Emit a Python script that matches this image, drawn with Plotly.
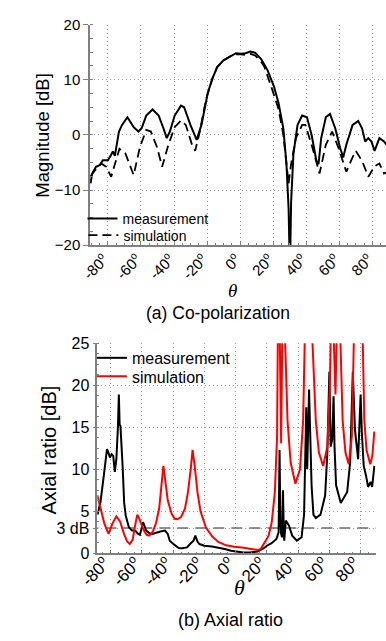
import plotly.graph_objects as go

# ---------------- (a) Co-polarization ----------------
CP_MEAS_THETA = [-90.5, -89.5, -87.2, -85, -83, -80, -78, -77, -75.8, -73.3, -71.4, -68.2, -64.4, -61.5,
                 -59.6, -56.8, -53, -49.3, -46.4, -44.4, -42.5, -39.6, -35.8, -33.9, -30.1, -26.3, -23.4,
                 -19.6, -16.8, -13.9, -10.1, -6.3, -2.5, 0.4, 3.2, 6.1, 9, 12.8, 16.6, 20.4, 23.2, 26.1,
                 28, 29.3, 30.1, 30.8, 32.2, 34.7, 37.5, 40.4, 43.2, 46.1, 47.4, 49, 51.8, 54.3, 57.5,
                 60.4, 62.3, 64.2, 68, 71.4, 73.7, 75.6, 77.5, 79.4, 81.3, 84.2, 87, 89]
CP_MEAS_DB = [-8.8, -7.0, -5.8, -5.5, -4.6, -4.6, -3.6, -3.0, -3.8, 0.6, 1.8, 3.2, 1.4, 0.6,
              1.2, 3.5, 4.6, 3.5, 1.2, -0.6, 0.6, 3.5, 5.3, 5.0, 1.8, -0.9, 1.8,
              7.6, 10.2, 12.3, 13.5, 14.2, 14.8, 14.7, 14.8, 15.1, 14.9, 13.7, 11.7, 8.8, 5.8, 1.2,
              -5.3, -13.4, -25.0, -12.3, -3.5, 1.8, 3.5, 3.2, 0.0, -4.7, -5.3, -0.6, 3.2, 3.8, 1.2,
              -2.3, -4.1, -1.8, 1.8, 2.5, 1.2, -1.2, -0.6, -1.2, -2.9, -0.6, -1.2, -2.0]

CP_SIM_THETA = [-90.5, -88, -84, -81, -78, -76, -73, -69.5, -64.4, -60.7, -56.8, -54, -50.2, -47.2,
                -43.4, -39.6, -35.8, -32.9, -29.1, -27.2, -24.4, -20.6, -16.8, -13.9, -10.1, -6.3,
                -2.5, 0.4, 3.2, 6.1, 9, 12.8, 14.7, 19.4, 23.2, 26.1, 28, 29.3, 30.8, 33.7, 37.5, 39.4,
                43.2, 48, 51.8, 55.6, 59.4, 64.2, 67, 69.9, 73.7, 77.5, 81.3, 84.2, 87, 89]
CP_SIM_DB = [-7.5, -6.5, -5.2, -5.8, -7.6, -5.5, -2.5, -3.3, -7.3, -2.3, 0.9, 0.6, -2.3, -5.8,
             -1.8, 1.4, 2.6, 1.8, -1.8, -2.9, 0.6, 6.5, 10.2, 12.3, 13.5, 14.2,
             14.6, 14.6, 14.5, 14.7, 14.4, 13.2, 12.3, 8.2, 4.7, 0.0, -4.7, -8.8, -5.3, -0.6, 1.8, 1.8,
             -1.8, -7.0, -1.8, 0.6, -2.3, -6.7, -4.7, -2.9, -4.7, -7.6, -5.7, -5.2, -7.0, -6.7]

# ---------------- (b) Axial ratio ----------------
AR_MEAS_THETA = [-88.4, -86.5, -84.4, -82.4, -81.5, -80.5, -79.5, -78.4, -77.4, -76.4, -75.4, -74.8, -74.3,
                 -73.8, -72.4, -71.4, -70.4, -68.4, -66.4, -64.4, -62.4, -61.3, -59.3, -57.3, -55.3, -53.3,
                 -48.3, -45.2, -43.5, -42.2, -39.2, -36.2, -34.2, -31.2, -29.2, -27.0, -25.8, -24.5, -23.2,
                 -20.1, -15.1, -12.1, -7.0, -3.0, 0.0, 5.0, 9.0, 14.0, 18.0, 20.0, 23.0, 26.1, 27.5, 28.1,
                 28.6, 29.1, 29.7, 30.3, 30.8, 31.1, 32.1, 34.1, 36.2, 39.2, 42.2, 43.8, 45.2, 45.8, 47.0,
                 47.8, 48.6, 49.8, 51.3, 54.3, 57.3, 58.7, 60.0, 60.8, 61.8, 62.7, 63.3, 64.3, 67.3, 71.4,
                 73.3, 75.0, 76.4, 78.4, 80.0, 80.8, 82.0, 83.4, 84.8, 86.4, 87.4, 88.8]
AR_MEAS_DB = [4.6, 6.2, 9.3, 12.4, 12.0, 11.4, 11.8, 11.6, 9.7, 11.2, 15.0, 18.9, 15.3,
              15.2, 10.4, 6.0, 4.5, 3.1, 2.7, 2.7, 2.3, 2.2, 3.7, 2.7, 2.4, 2.3,
              2.6, 2.7, 2.3, 1.5, 1.0, 0.6, 0.6, 0.7, 1.1, 1.5, 2.1, 1.4, 1.1,
              0.9, 0.8, 0.7, 0.5, 0.3, 0.2, 0.1, 0.1, 0.2, 0.6, 0.9, 1.2, 1.7, 2.5, 12.3,
              4.0, 2.3, 1.9, 7.5, 2.5, 1.5, 3.9, 3.3, 2.1, 1.5, 1.9, 4.6, 17.4, 10.0, 19.5,
              13.9, 8.1, 4.6, 4.2, 4.6, 6.9, 12.0, 21.6, 12.7, 13.5, 18.7, 12.7, 8.1, 6.0, 7.3,
              10.8, 21.6, 14.7, 11.2, 18.9, 14.3, 10.4, 9.3, 7.9, 8.5, 7.9, 10.4]

AR_SIM_THETA = [-88.6, -86.5, -84, -81.4, -79, -76.4, -74, -71.5, -69.5, -67.8, -66, -64.5, -63, -61.5,
                -59, -57, -55.3, -53, -51, -49, -47.3, -46.3, -45.3, -43.5, -41, -39, -37.2, -35, -32.5,
                -30.5, -28.8, -27.6, -26.3, -24.5, -22.5, -19.1, -15, -11.1, -6, -1, 4, 9, 14, 16,
                18.1, 21.1, 23.1, 25.1, 26.5, 27.3, 27.8, 28.3, 29.1, 29.8, 30.5, 31.2, 31.7, 33.2,
                35.2, 38.2, 41.2, 43.2, 44.2, 46.5, 49.2, 51.3, 53.3, 56, 58.7, 60.3, 60.8, 61.8, 62.9,
                63.9, 64.6, 65.8, 67.1, 68.5, 70.3, 72.4, 74.4, 75.8, 77.4, 79.5, 81.4, 82.4, 83.8,
                86.2, 87.5, 88.8]
AR_SIM_DB = [6.9, 5.2, 3.5, 2.3, 3.5, 4.4, 3.8, 2.3, 1.4, 1.1, 1.6, 3.2, 4.6, 4.0,
             2.8, 2.2, 2.1, 2.6, 3.6, 5.3, 8.5, 10.4, 9.0, 6.3, 4.7, 4.1, 4.05, 4.3, 5.3,
             7.3, 10.0, 12.3, 10.5, 7.3, 5.0, 3.1, 2.0, 1.35, 0.95, 0.77, 0.7, 0.58, 0.4, 0.5,
             1.2, 2.1, 3.7, 7.3, 13.9, 25.0, 45.0, 25.0, 13.1, 25.0, 45.0, 35.0, 25.0, 15.8,
             10.8, 8.3, 10.0, 15.8, 25.0, 60.0, 25.0, 15.8, 12.0, 10.4, 12.7, 19.7, 25.0, 45.0, 25.0,
             18.9, 25.0, 45.0, 25.0, 15.8, 12.0, 10.6, 13.9, 19.7, 25.0, 60.0, 25.0, 15.8, 12.3,
             10.6, 11.6, 14.5]

THRESH_THETA = [-95, 95]
THRESH_DB = [3, 3]

X_TICKS = [-80, -60, -40, -20, 0, 20, 40, 60, 80]
X_TICK_LABELS = ["-80<sup>o</sup>", "-60<sup>o</sup>", "-40<sup>o</sup>", "-20<sup>o</sup>", "0<sup>o</sup>",
                 "20<sup>o</sup>", "40<sup>o</sup>", "60<sup>o</sup>", "80<sup>o</sup>"]
CP_Y_TICKS = [-20, -10, 0, 10, 20]
AR_Y_TICKS = [0, 3, 5, 10, 15, 20, 25]
AR_Y_LABELS = ["0", "3 dB", "5", "10", "15", "20", "25"]

W, H = 386, 641
FONT = "Liberation Sans, Arial, sans-serif"
GRID = "#9a9a9a"
AXIS = "#808080"


def px(x):
    return x / W


def py(y):
    return 1 - y / H


fig = go.Figure()

fig.add_trace(go.Scatter(x=CP_MEAS_THETA, y=CP_MEAS_DB, mode="lines", name="measurement",
                         line=dict(color="black", width=2), xaxis="x", yaxis="y", legend="legend"))
fig.add_trace(go.Scatter(x=CP_SIM_THETA, y=CP_SIM_DB, mode="lines", name="simulation",
                         line=dict(color="black", width=1.8, dash="9px,5px"), xaxis="x", yaxis="y",
                         legend="legend2"))

fig.add_trace(go.Scatter(x=THRESH_THETA, y=THRESH_DB, mode="lines", showlegend=False,
                         line=dict(color="#6e6e6e", width=1.5, dash="11px,7px"), xaxis="x2", yaxis="y2"))
fig.add_trace(go.Scatter(x=AR_MEAS_THETA, y=AR_MEAS_DB, mode="lines", name="measurement",
                         line=dict(color="black", width=2), xaxis="x2", yaxis="y2", legend="legend3"))
fig.add_trace(go.Scatter(x=AR_SIM_THETA, y=AR_SIM_DB, mode="lines", name="simulation",
                         line=dict(color="#ff0000", width=2), xaxis="x2", yaxis="y2", legend="legend4"))

common_x = dict(tickmode="array", tickvals=X_TICKS, ticktext=X_TICK_LABELS, tickangle=-45,
                showline=True, linecolor=AXIS, linewidth=1.5, showgrid=True, gridcolor=GRID,
                griddash="1px,3px", gridwidth=1, zeroline=False, ticks="inside", ticklen=4,
                tickcolor=AXIS, minor=dict(dtick=5, ticks="inside", ticklen=2, tickcolor=AXIS, showgrid=False))

fig.update_layout(
    width=W, height=H, margin=dict(l=0, r=0, t=0, b=0),
    paper_bgcolor="white", plot_bgcolor="white",
    font=dict(family=FONT, color="black"),
    xaxis=dict(domain=[px(73), 1.0], range=[-90.8, 88.2], anchor="y",
               tickfont=dict(size=15, family=FONT), ticklabelshift=-4, ticklabelstandoff=-2, **common_x),
    yaxis=dict(domain=[py(243), py(16)], range=[-20, 20], anchor="x", tickmode="array",
               tickvals=CP_Y_TICKS, showline=True, linecolor=AXIS, linewidth=1.5,
               showgrid=True, gridcolor=GRID, griddash="1px,3px", zeroline=False,
               ticks="outside", ticklen=5, tickcolor=AXIS, tickfont=dict(size=15, family=FONT),
               minor=dict(dtick=2.5, ticks="inside", ticklen=3, tickcolor=AXIS, showgrid=False)),
    xaxis2=dict(domain=[px(80.7), px(375)], range=[-88.6, 89.6], anchor="y2",
                tickfont=dict(size=17, family=FONT), ticklabelshift=-6, ticklabelstandoff=-8, **common_x),
    yaxis2=dict(domain=[py(560), py(344)], range=[0, 25], anchor="x2", tickmode="array",
                tickvals=AR_Y_TICKS, ticktext=AR_Y_LABELS, showline=True, linecolor=AXIS,
                linewidth=1.5, showgrid=True, gridcolor=GRID, griddash="1px,3px", zeroline=False,
                ticks="outside", ticklen=3, tickcolor=AXIS, tickfont=dict(size=16, family=FONT),
                minor=dict(dtick=1.25, ticks="inside", ticklen=2, tickcolor=AXIS, showgrid=False)),
    legend=dict(x=px(65), y=py(216), xanchor="left", yanchor="middle", bgcolor="rgba(0,0,0,0)",
                font=dict(size=14, family=FONT)),
    legend2=dict(x=px(66), y=py(233), xanchor="left", yanchor="middle", bgcolor="rgba(0,0,0,0)",
                 font=dict(size=14, family=FONT)),
    legend3=dict(x=px(75), y=py(359), xanchor="left", yanchor="middle", bgcolor="rgba(0,0,0,0)",
                 font=dict(size=16, family=FONT)),
    legend4=dict(x=px(75), y=py(378), xanchor="left", yanchor="middle", bgcolor="rgba(0,0,0,0)",
                 font=dict(size=16, family=FONT)),
)

annotations = [
    dict(text="(a) Co-polarization", x=px(208), y=py(313), size=17.5, fam=FONT, angle=0),
    dict(text="(b) Axial ratio", x=px(222), y=py(629), size=18, fam=FONT, angle=0),
    dict(text="<i>θ</i>", x=px(224), y=py(290), size=19, fam="Liberation Serif, serif", angle=0),
    dict(text="<i>θ</i>", x=px(231), y=py(595), size=22, fam="Liberation Serif, serif", angle=0),
    dict(text="Magnitude [dB]", x=px(22.5), y=py(130), size=18.5, fam=FONT, angle=-90),
    dict(text="Axial ratio [dB]", x=px(30), y=py(454), size=20, fam=FONT, angle=-90),
]
for a in annotations:
    fig.add_annotation(text=a["text"], x=a["x"], y=a["y"], xref="paper", yref="paper",
                       xanchor="center", yanchor="middle", showarrow=False, textangle=a["angle"],
                       font=dict(size=a["size"], family=a["fam"], color="black"))

fig.write_html("out.html")
